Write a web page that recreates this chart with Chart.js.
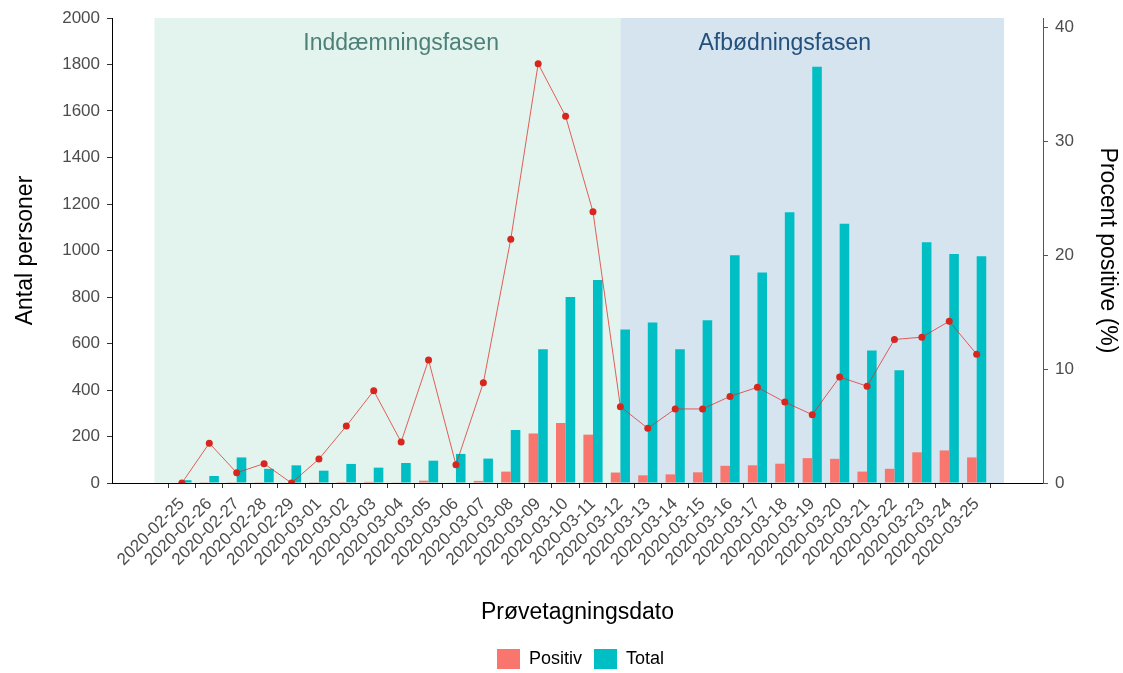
<!DOCTYPE html>
<html>
<head>
<meta charset="utf-8">
<script src="https://cdn.jsdelivr.net/npm/chart.js@4.4.0/dist/chart.umd.min.js"></script>
<style>
  html, body { margin: 0; padding: 0; background: #ffffff; }
  #wrap { width: 1123px; height: 673px; }
</style>
</head>
<body>
<div id="wrap"><canvas id="testChart" width="1123" height="673"></canvas></div>
<script>
// prøvetagningsdatoer
const datoer = [
  "2020-02-25", "2020-02-26", "2020-02-27", "2020-02-28", "2020-02-29",
  "2020-03-01", "2020-03-02", "2020-03-03", "2020-03-04", "2020-03-05",
  "2020-03-06", "2020-03-07", "2020-03-08", "2020-03-09", "2020-03-10",
  "2020-03-11", "2020-03-12", "2020-03-13", "2020-03-14", "2020-03-15",
  "2020-03-16", "2020-03-17", "2020-03-18", "2020-03-19", "2020-03-20",
  "2020-03-21", "2020-03-22", "2020-03-23", "2020-03-24", "2020-03-25"
];
const positiv = [0, 1, 1, 1, 0, 1, 4, 5, 3, 10, 2, 9, 49, 213, 258, 208, 45, 33, 37, 46, 74, 76, 83, 107, 104, 49, 61, 132, 140, 110];
const total = [12, 30, 110, 61, 76, 53, 82, 66, 86, 96, 125, 105, 228, 575, 800, 873, 660, 690, 575, 700, 980, 905, 1165, 1790, 1115, 570, 485, 1035, 985, 975];
const procent = [0, 3.5, 0.9, 1.7, 0, 2.1, 5.0, 8.1, 3.6, 10.8, 1.6, 8.8, 21.4, 36.8, 32.2, 23.8, 6.7, 4.8, 6.5, 6.5, 7.6, 8.4, 7.1, 6.0, 9.3, 8.5, 12.6, 12.8, 14.2, 11.3];

// faser (indeks i datoer: 2020-02-24 = -1, 2020-03-12 = 16, 2020-03-26 = 30)
const faseNavne = ["Inddæmningsfasen", "Afbødningsfasen"];
const faseStart = [-1, 16];
const faseSlut = [16, 30];
const faseTekstX = [8, 22]; // 2020-03-04 og 2020-03-18
const faseTekstY = 1890;

const venstreTicks = [0, 200, 400, 600, 800, 1000, 1200, 1400, 1600, 1800, 2000];
const hoejreTicks = [0, 10, 20, 30, 40];

const faseFarver = ["#e3f3ee", "#d6e4f0"];
const faseTekstFarver = ["#4d8178", "#23507c"];
const FONT = "'Liberation Sans', Arial, sans-serif";

// plugin til baggrundsfaserne
const faserPlugin = {
  id: "faser",
  beforeDatasetsDraw(chart) {
    const { ctx, chartArea } = chart;
    const x = chart.scales.x;
    const y = chart.scales.y;
    ctx.save();
    for (let i = 0; i < faseNavne.length; i++) {
      const x0 = x.getPixelForValue(faseStart[i]);
      const x1 = x.getPixelForValue(faseSlut[i]);
      ctx.fillStyle = faseFarver[i];
      ctx.fillRect(x0, chartArea.top, x1 - x0, chartArea.bottom - chartArea.top);
    }
    ctx.font = "23px " + FONT;
    ctx.textAlign = "center";
    ctx.textBaseline = "middle";
    for (let i = 0; i < faseNavne.length; i++) {
      ctx.fillStyle = faseTekstFarver[i];
      ctx.fillText(faseNavne[i], x.getPixelForValue(faseTekstX[i]), y.getPixelForValue(faseTekstY));
    }
    ctx.restore();
  },
};

// flytter legenden lidt til hojre, saa den staar som i ggplot
const legendFlyt = {
  id: "legendFlyt",
  afterLayout(chart) {
    chart.legend.left += 38;
  },
};

const data = {
  datasets: [
    {
      label: "Positiv",
      data: positiv.map((v, i) => ({ x: i, y: v })),
      backgroundColor: "#F8766D",
      borderWidth: 0,
      yAxisID: "y",
      order: 1,
      categoryPercentage: 0.7,
      barPercentage: 1.0,
    },
    {
      label: "Total",
      data: total.map((v, i) => ({ x: i, y: v })),
      backgroundColor: "#00BFC4",
      borderWidth: 0,
      yAxisID: "y",
      order: 1,
      categoryPercentage: 0.7,
      barPercentage: 1.0,
    },
    {
      type: "line",
      label: "Procent positive",
      data: procent.map((v, i) => ({ x: i, y: v })),
      borderColor: "rgba(222, 45, 38, 0.75)",
      borderWidth: 1,
      pointRadius: 3.5,
      pointBackgroundColor: "#d7261e",
      pointBorderWidth: 0,
      yAxisID: "y1",
      order: 0,
      tension: 0,
    },
  ],
};

const tickFont = { family: FONT, size: 17 };
const titleFont = { family: FONT, size: 23 };

const config = {
  type: "bar",
  data: data,
  plugins: [faserPlugin, legendFlyt],
  options: {
    responsive: false,
    animation: false,
    layout: { padding: { top: 18, left: 0, right: 0, bottom: 0 } },
    plugins: {
      tooltip: { enabled: false },
      legend: {
        position: "bottom",
        maxHeight: 36,
        labels: {
          filter: (item) => item.datasetIndex !== 2,
          boxWidth: 23,
          boxHeight: 20,
          padding: 12,
          color: "#000000",
          font: { family: FONT, size: 18 },
        },
      },
    },
    scales: {
      x: {
        type: "linear",
        offset: false,
        min: -2.55,
        max: 31.42,
        afterBuildTicks: (axis) => {
          axis.ticks = datoer.map((d, i) => ({ value: i }));
        },
        afterFit: (axis) => {
          axis.height = 154;
        },
        ticks: {
          autoSkip: false,
          maxRotation: 45,
          minRotation: 45,
          color: "#4d4d4d",
          font: tickFont,
          padding: 6,
          callback: (v) => datoer[v],
        },
        grid: { drawOnChartArea: false, drawTicks: true, tickLength: 5, color: "#333333" },
        border: { display: true, color: "#000000", width: 1 },
        title: {
          display: true,
          text: "Prøvetagningsdato",
          color: "#000000",
          font: titleFont,
          padding: { top: 0, bottom: 11 },
        },
      },
      y: {
        position: "left",
        min: 0,
        max: 2000,
        afterBuildTicks: (axis) => {
          axis.ticks = venstreTicks.map((v) => ({ value: v }));
        },
        afterFit: (axis) => {
          axis.width = 112;
        },
        ticks: { color: "#4d4d4d", font: tickFont, padding: 7, callback: (v) => String(v) },
        grid: { drawOnChartArea: false, drawTicks: true, tickLength: 5, color: "#333333" },
        border: { display: true, color: "#000000", width: 1 },
        title: {
          display: true,
          text: "Antal personer",
          color: "#000000",
          font: titleFont,
          padding: { top: 12, bottom: 0 },
        },
      },
      y1: {
        position: "right",
        min: 0,
        max: 2000 / 49,
        afterBuildTicks: (axis) => {
          axis.ticks = hoejreTicks.map((v) => ({ value: v }));
        },
        afterFit: (axis) => {
          axis.width = 80;
        },
        ticks: { color: "#4d4d4d", font: tickFont, padding: 7 },
        grid: { drawOnChartArea: false, drawTicks: true, tickLength: 5, color: "#555555" },
        border: { display: true, color: "#555555", width: 1 },
        title: {
          display: true,
          text: "Procent positive (%)",
          color: "#000000",
          font: titleFont,
          padding: { top: 2, bottom: 0 },
        },
      },
    },
  },
};

let myChart = new Chart(document.getElementById("testChart"), config);
</script>
</body>
</html>
